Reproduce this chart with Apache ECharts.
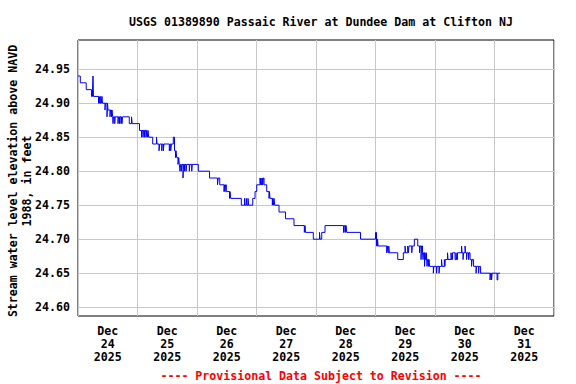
<!DOCTYPE html>
<html><head><meta charset="utf-8">
<script src="https://cdn.jsdelivr.net/npm/echarts@6/dist/echarts.min.js"></script>
<style>html,body{margin:0;padding:0;background:#fff}#c{width:576px;height:384px}</style>
</head><body><div id="c"></div>
<script>
// ---- data ----
const titleText = 'USGS 01389890 Passaic River at Dundee Dam at Clifton NJ';
const yAxisTitle = ['Stream water level elevation above NAVD', '1988, in feet'];
const footerText = '---- Provisional Data Subject to Revision ----';
const yTicks = [24.60, 24.65, 24.70, 24.75, 24.80, 24.85, 24.90, 24.95];
const month = 'Dec';
const year = '2025';
const dayLabels = ['24', '25', '26', '27', '28', '29', '30', '31'];
// label positions: hours since Dec 23 12:00 (midnight of each labelled day)
const labelHours = [12, 36, 60, 84, 108, 132, 156, 180];
// change points of the gage height record: hours since Dec 23 12:00
const hours = [
  0, 0.93, 3.31, 5.45, 5.85, 6.05, 6.25, 8.27, 8.59, 8.87, 9.16, 9.40, 9.68, 9.88,
  10.89, 11.09, 11.70, 11.90, 12.10, 12.91, 13.11, 13.51, 13.72, 14.00, 14.12, 14.32,
  14.81, 15.01, 16.14, 16.34, 16.74, 16.94, 17.35, 17.55, 17.75, 17.95, 20.69, 21.58,
  21.86, 24.81, 25.62, 25.82, 26.22, 26.42, 26.83, 27.03, 27.43, 27.71, 27.96, 28.24,
  28.52, 30.13, 31.67, 31.87, 32.68, 32.96, 33.77, 33.97, 34.41, 34.69, 36.83, 37.11,
  37.40, 37.64, 38.44, 38.93, 39.33, 39.53, 39.81, 40.34, 40.62, 40.87, 41.15, 41.35,
  41.67, 41.95, 42.36, 42.56, 42.96, 43.16, 43.57, 43.85, 44.90, 45.10, 45.87, 46.07,
  48.53, 53.05, 56.28, 56.56, 57.17, 58.90, 59.11, 59.31, 59.51, 59.83, 61.12, 61.32,
  61.60, 65.88, 67.17, 67.37, 67.89, 68.10, 68.58, 68.78, 70.48, 71.41, 72.09, 73.42,
  73.63, 73.83, 74.03, 74.35, 74.55, 74.75, 75.04, 76.12, 77.05, 77.25, 77.45, 78.38,
  78.58, 78.86, 79.07, 79.35, 81.08, 83.71, 87.13, 91.29, 91.57, 91.77, 94.92, 97.42,
  97.63, 98.31, 99.64, 107.10, 107.39, 107.91, 108.11, 108.39, 113.96, 120.01, 120.41,
  120.82, 121.02, 124.53, 124.77, 125.05, 125.34, 125.58, 128.97, 131.23, 131.92, 132.12,
  133.00, 133.25, 133.53, 134.62, 134.86, 135.67, 137.04, 137.76, 137.96, 138.37, 138.57,
  138.97, 139.17, 139.38, 139.78, 139.98, 140.18, 140.51, 140.79, 140.99, 141.39, 141.60,
  141.80, 143.33, 143.53, 144.62, 144.82, 145.63, 145.83, 146.64, 146.84, 147.77, 147.97,
  148.17, 149.06, 149.26, 150.47, 150.67, 151.07, 152.08, 152.49, 152.69, 153.09, 154.71,
  154.91, 155.31, 155.52, 156.12, 156.32, 156.73, 156.93, 157.54, 157.74, 158.14, 158.75,
  158.95, 159.56, 160.56, 160.77, 161.57, 161.77, 162.38, 166.21, 166.42, 166.82, 167.03,
  169.04, 169.33, 170.24
];
const levels = [
  24.94, 24.93, 24.92, 24.91, 24.92, 24.94, 24.91, 24.90, 24.91, 24.90, 24.91, 24.90, 24.91, 24.90,
  24.89, 24.90, 24.88, 24.90, 24.89, 24.88, 24.89, 24.88, 24.89, 24.88, 24.87, 24.88,
  24.87, 24.88, 24.87, 24.88, 24.87, 24.88, 24.87, 24.88, 24.87, 24.88, 24.87, 24.88,
  24.87, 24.86, 24.85, 24.86, 24.85, 24.86, 24.85, 24.86, 24.85, 24.86, 24.85, 24.86,
  24.85, 24.84, 24.85, 24.84, 24.83, 24.84, 24.83, 24.84, 24.83, 24.84, 24.83, 24.84,
  24.83, 24.84, 24.85, 24.83, 24.82, 24.83, 24.82, 24.81, 24.82, 24.81, 24.80, 24.81,
  24.80, 24.81, 24.79, 24.81, 24.80, 24.81, 24.80, 24.81, 24.80, 24.81, 24.80, 24.81,
  24.80, 24.79, 24.78, 24.79, 24.78, 24.77, 24.78, 24.77, 24.78, 24.77, 24.76, 24.77,
  24.76, 24.75, 24.76, 24.75, 24.76, 24.75, 24.76, 24.75, 24.76, 24.77, 24.78, 24.79,
  24.78, 24.79, 24.78, 24.79, 24.78, 24.79, 24.78, 24.77, 24.76, 24.77, 24.76, 24.75,
  24.76, 24.75, 24.76, 24.75, 24.74, 24.73, 24.72, 24.71, 24.72, 24.71, 24.70, 24.71,
  24.70, 24.71, 24.72, 24.71, 24.72, 24.71, 24.72, 24.71, 24.70, 24.71, 24.69,
  24.70, 24.69, 24.68, 24.69, 24.68, 24.69, 24.68, 24.67, 24.68, 24.69, 24.68,
  24.69, 24.68, 24.69, 24.68, 24.69, 24.70, 24.69, 24.68, 24.69, 24.67, 24.69,
  24.68, 24.67, 24.68, 24.66, 24.68, 24.67, 24.68, 24.66, 24.67, 24.66, 24.67,
  24.66, 24.65, 24.66, 24.65, 24.66, 24.65, 24.66, 24.67, 24.66, 24.67, 24.66,
  24.67, 24.68, 24.67, 24.68, 24.67, 24.68, 24.67, 24.68, 24.67, 24.68, 24.69,
  24.68, 24.67, 24.68, 24.69, 24.68, 24.67, 24.68, 24.67, 24.68, 24.67, 24.66,
  24.67, 24.66, 24.65, 24.66, 24.65, 24.66, 24.65, 24.64, 24.65, 24.64, 24.65,
  24.64, 24.65, 24.65
];

// ---- chart ----
const FONT = '"DejaVu Sans Mono", monospace';
const chart = echarts.init(document.getElementById('c'), null, {renderer: 'svg'});
const seriesData = hours.map((h, i) => [h, levels[i]]);
chart.setOption({
  animation: false,
  backgroundColor: '#fff',
  title: [
    {text: titleText, left: 316, top: 11, textAlign: 'center',
     textStyle: {fontFamily: FONT, fontWeight: 'bold', fontSize: 11.6, color: '#000'}},
    {text: footerText, left: 316, top: 365, textAlign: 'center',
     textStyle: {fontFamily: FONT, fontWeight: 'bold', fontSize: 11.6, color: '#ff0000'}}
  ],
  graphic: [{
    type: 'text', x: 20, y: 181, rotation: Math.PI / 2, silent: true,
    style: {text: yAxisTitle.join('\n'), x: 0, y: 0, align: 'center', verticalAlign: 'middle',
            textAlign: 'center', textVerticalAlign: 'middle',
            font: 'bold 11.6px "DejaVu Sans Mono", monospace', lineHeight: 14, fill: '#000'}
  }],
  grid: {left: 78, right: 22, top: 40, bottom: 68, show: true, borderColor: '#000', borderWidth: 1,
         containLabel: false, outerBoundsMode: 'none'},
  xAxis: {
    type: 'value', min: 0, max: 192, interval: 24,
    axisLine: {show: false}, axisTick: {show: false},
    splitLine: {show: true, lineStyle: {color: '#c8c8c8', width: 1}},
    axisLabel: {
      customValues: labelHours, margin: 8,
      fontFamily: FONT, fontWeight: 'bold', fontSize: 11.6, color: '#000', lineHeight: 13,
      formatter: v => { const i = labelHours.indexOf(v); return i < 0 ? '' : month + '\n' + dayLabels[i] + '\n' + year; }
    }
  },
  yAxis: {
    type: 'value', min: 24.587, max: 24.993,
    axisLine: {show: false},
    axisTick: {show: false, customValues: yTicks},
    splitLine: {show: true, lineStyle: {color: '#c8c8c8', width: 1}},
    axisLabel: {
      customValues: yTicks, margin: 8,
      fontFamily: FONT, fontWeight: 'bold', fontSize: 11.6, color: '#000',
      formatter: v => v.toFixed(2)
    }
  },
  series: [{
    type: 'line', data: seriesData, step: 'end', showSymbol: false, symbol: 'none',
    lineStyle: {color: '#0000ff', width: 1}, silent: true
  }]
});
</script></body></html>
